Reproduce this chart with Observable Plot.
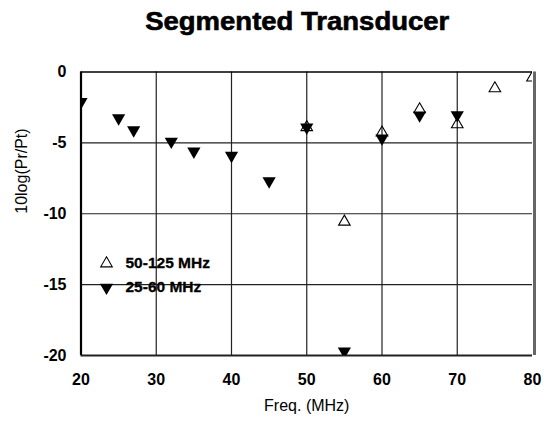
<!DOCTYPE html>
<html>
<head>
<meta charset="utf-8">
<script src="https://cdn.jsdelivr.net/npm/d3@7"></script>
<script src="https://cdn.jsdelivr.net/npm/@observablehq/plot@0.6"></script>
<style>
  html, body { margin: 0; padding: 0; background: #fff; }
  #title {
    width: 544px; height: 44px; box-sizing: border-box; padding-left: 50px;
    text-align: center; font: bold 25px "Liberation Sans", Arial, sans-serif;
    line-height: 42px; color: #000; -webkit-text-stroke: 0.6px #000;
  }
  #title span { display: inline-block; transform: scaleX(1.1); }
</style>
</head>
<body>
<div id="title"><span>Segmented Transducer</span></div>
<div id="chart"></div>
<script>
// Series "50-125 MHz" (open triangles)
const freqA = [50, 55, 60, 65, 70, 75, 80];
const lossA = [-3.9, -10.57, -4.28, -2.64, -3.7, -1.16, -0.4];
// Series "25-60 MHz" (filled down triangles)
const freqB = [20, 25, 27, 32, 35, 40, 45, 50, 55, 60, 65, 70];
const lossB = [-2.1, -3.25, -4.1, -4.9, -5.6, -5.9, -7.7, -3.9, -19.7, -4.67, -3.05, -3.03];

const xTicks = [20, 30, 40, 50, 60, 70, 80];
const yTicks = [0, -5, -10, -15, -20];
const legendLabels = ["50-125 MHz", "25-60 MHz"];

const seriesA = freqA.map((f, i) => ({f, v: lossA[i]}));
const seriesB = freqB.map((f, i) => ({f, v: lossB[i]}));

const font = "Liberation Sans, Arial, sans-serif";
const boldStyle = {letterSpacing: "1px", stroke: "#000", strokeWidth: "0.3px"};

const chart = Plot.plot({
  width: 544,
  height: 377,
  marginLeft: 80.5,
  marginRight: 12,
  marginTop: 27.5,
  marginBottom: 66,
  style: {fontFamily: font, background: "#fff", color: "#000"},
  x: {domain: [20, 80]},
  y: {domain: [-20, 0]},
  marks: [
    // grid
    Plot.ruleX(xTicks.slice(1, -1), {stroke: "#222", strokeWidth: 1.2}),
    Plot.ruleY(yTicks.slice(1, -1), {stroke: "#222", strokeWidth: 1.2}),
    // frame edges
    Plot.ruleY([0], {stroke: "#000", strokeWidth: 1.6}),
    Plot.ruleY([-20], {stroke: "#222", strokeWidth: 2.2}),
    Plot.ruleX([20], {stroke: "#000", strokeWidth: 2.2}),
    Plot.ruleX([80], {stroke: "#666", strokeWidth: 3, dx: 2}),
    // axes
    Plot.axisX({ticks: xTicks, tickSize: 0, tickPadding: 18, label: null,
      tickFormat: d => String(d), fontSize: 16, fontWeight: "bold", style: boldStyle}),
    Plot.axisY({ticks: yTicks, tickSize: 0, tickPadding: 14.5, label: null,
      tickFormat: d => String(d), fontSize: 16, fontWeight: "bold", style: boldStyle}),
    Plot.text(["Freq. (MHz)"], {frameAnchor: "bottom", dy: 44, lineAnchor: "top",
      fontSize: 16, fill: "#000", style: {letterSpacing: "1.1px"}}),
    Plot.text(["10log(Pr/Pt)"], {frameAnchor: "left", dx: -59.5, rotate: -90,
      lineAnchor: "middle", fontSize: 16, fill: "#000", style: {letterSpacing: "1.1px"}}),
    // data
    Plot.dot(seriesA, {x: "f", y: "v", symbol: "triangle", r: 4.3, stroke: "#000",
      strokeWidth: 1.1, fill: "none", clip: true}),
    Plot.dot(seriesB, {x: "f", y: "v", symbol: "triangle", rotate: 180, r: 4.9,
      fill: "#000", stroke: "none", clip: true}),
    // legend
    Plot.dot([legendLabels[0]], {frameAnchor: "top-left", dx: 25.5, dy: 191.5,
      symbol: "triangle", r: 4.3, stroke: "#000", strokeWidth: 1.1, fill: "none"}),
    Plot.dot([legendLabels[1]], {frameAnchor: "top-left", dx: 25.5, dy: 215.5,
      symbol: "triangle", rotate: 180, r: 4.9, fill: "#000"}),
    Plot.text([legendLabels[0]], {frameAnchor: "top-left", dx: 44.5, dy: 191.5,
      text: d => d, textAnchor: "start", lineAnchor: "middle", fontSize: 15.5,
      fontWeight: "bold", fill: "#000", stroke: "#000", strokeWidth: 0.3,
      style: {letterSpacing: "1.3px"}}),
    Plot.text([legendLabels[1]], {frameAnchor: "top-left", dx: 44.5, dy: 215.5,
      text: d => d, textAnchor: "start", lineAnchor: "middle", fontSize: 15.5,
      fontWeight: "bold", fill: "#000", stroke: "#000", strokeWidth: 0.3,
      style: {letterSpacing: "1.3px"}})
  ]
});
document.getElementById("chart").appendChild(chart);
</script>
</body>
</html>
